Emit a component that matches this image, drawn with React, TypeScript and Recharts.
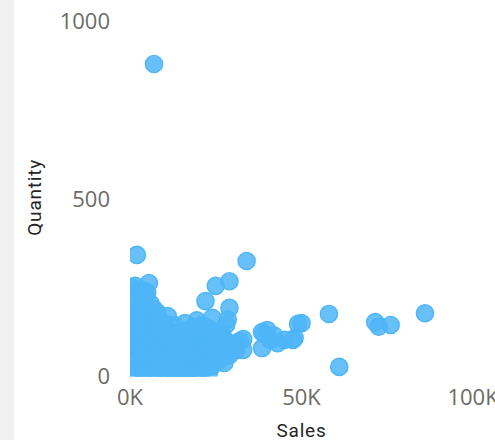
import React from "react";
import { ScatterChart, Scatter, XAxis, YAxis } from "recharts";

const outlierSales = [7, 2, 34, 29, 25, 22, 29, 5.5, 58, 61, 71.5, 72.5, 76, 86, 50, 49, 48, 47.5, 45, 43, 38.5, 40, 38.5, 41, 42, 39, 32, 30, 33, 27.5, 23, 11, 24, 19.5, 28, 28.5, 27, 31, 29];
const outlierQty = [879, 342, 325, 268, 255, 212, 193, 263, 176, 27, 153, 140, 145, 178, 150, 148, 108, 103, 103, 94, 80, 131, 125, 103, 115, 120, 100, 88, 105, 38, 12, 170, 165, 158, 145, 160, 115, 75, 85];

const leftSales = [0.5, 1.5, 3, 4.5, 2, 5, 6, 1, 3.5, 7, 7.5, 1, 2.5, 4, 5.5, 7, 8, 9, 0.5, 2, 3.5, 5, 6.5, 8, 9.5, 10, 1, 2.5, 4, 5.5, 7, 8.5, 10, 11, 0.5, 2, 3.5, 5, 6.5, 8, 9.5, 11, 12, 1, 2.5, 4, 5.5, 7, 8.5, 10, 11.5, 13, 0.5, 2, 3.5, 5, 6.5, 8, 9.5, 11, 12.5, 14, 1, 2.5, 4, 5.5, 7, 8.5, 10, 11.5, 13, 14.5];
const leftQty = [250, 255, 245, 240, 225, 235, 205, 205, 210, 190, 175, 180, 185, 190, 175, 165, 180, 150, 155, 160, 150, 150, 145, 150, 135, 150, 130, 125, 130, 125, 125, 125, 115, 130, 105, 100, 105, 100, 100, 100, 95, 105, 125, 80, 75, 75, 80, 75, 75, 75, 80, 100, 50, 50, 55, 50, 50, 55, 50, 55, 60, 70, 20, 25, 20, 25, 20, 25, 20, 25, 25, 35];

const midSales = [14, 15.5, 17, 18.5, 20, 21.5, 23, 24.5, 26, 14.5, 16, 17.5, 19, 20.5, 22, 23.5, 25, 26.5, 28, 15, 16.5, 18, 19.5, 21, 22.5, 24, 25.5, 27, 29, 30, 15.5, 17, 18.5, 20, 21.5, 23, 24.5, 26, 16, 18, 20, 22, 24, 13, 12, 15, 17, 19, 21, 13, 16, 18.5, 21, 31, 33, 29, 26, 24.5, 1.5, 4, 6.5, 9, 11.5, 14, 16.5, 19];
const midQty = [125, 130, 120, 135, 130, 120, 135, 125, 120, 100, 105, 100, 105, 100, 105, 100, 105, 100, 100, 80, 75, 80, 75, 80, 75, 80, 75, 80, 70, 85, 55, 50, 55, 50, 55, 50, 50, 55, 30, 25, 30, 25, 30, 10, 40, 8, 12, 8, 12, 145, 150, 140, 145, 90, 75, 60, 45, 62, 6, 8, 5, 7, 5, 6, 5, 4];

const toPoints = (sales: number[], qty: number[]) =>
  sales.map((s, i) => ({ sales: s, quantity: qty[i] }));

const points = [
  ...toPoints(outlierSales, outlierQty),
  ...toPoints(leftSales, leftQty),
  ...toPoints(midSales, midQty),
];

const xTicks = [0, 50, 100];
const yTicks = [0, 500, 1000];
const FONT = "'Open Sans', 'Noto Sans', sans-serif";
const TITLE = "Roboto, 'Noto Sans', sans-serif";

const dot = (p: any) => (
  <circle cx={p.cx} cy={p.cy} r={8.6} fill="#4DB5F8" fillOpacity={0.85} stroke="#4DB5F8" strokeWidth={1.4} />
);

export default function App() {
  return (
    <div style={{ position: "absolute", left: 0, top: 0, width: 495, height: 440, background: "#fff", overflow: "hidden" }}>
      <div style={{ position: "absolute", left: 0, top: 0, width: 14, height: 440, background: "#F0F0F0" }} />
      <ScatterChart width={495} height={440} margin={{ top: 21, right: 22, bottom: 0, left: 0 }} style={{ position: "absolute", left: 0, top: 0 }}>
        <XAxis
          type="number"
          dataKey="sales"
          domain={[0, 100]}
          ticks={xTicks}
          allowDataOverflow
          axisLine={false}
          tickLine={false}
          interval={0}
          height={63.5}
          tickMargin={7}
          tickFormatter={(v: number) => `${v}K`}
          tick={{ fill: "#6E6A66", fontSize: 22, fontFamily: FONT }}
          label={{ value: "Sales", position: "insideBottom", offset: 3, fill: "#252423", fontSize: 19, fontFamily: TITLE, fontWeight: 400, letterSpacing: 0.8 }}
        />
        <YAxis
          type="number"
          dataKey="quantity"
          domain={[0, 1000]}
          ticks={yTicks}
          allowDataOverflow
          axisLine={false}
          tickLine={false}
          interval={0}
          width={130}
          tickMargin={14}
          tick={{ fill: "#6E6A66", fontSize: 22, fontFamily: FONT }}
          label={{ value: "Quantity", angle: -90, position: "insideLeft", offset: 34, fill: "#252423", fontSize: 19, fontFamily: TITLE, fontWeight: 400, letterSpacing: 0.8, dy: 37 }}
        />
        <Scatter data={points} shape={dot} isAnimationActive={false} />
      </ScatterChart>
    </div>
  );
}
